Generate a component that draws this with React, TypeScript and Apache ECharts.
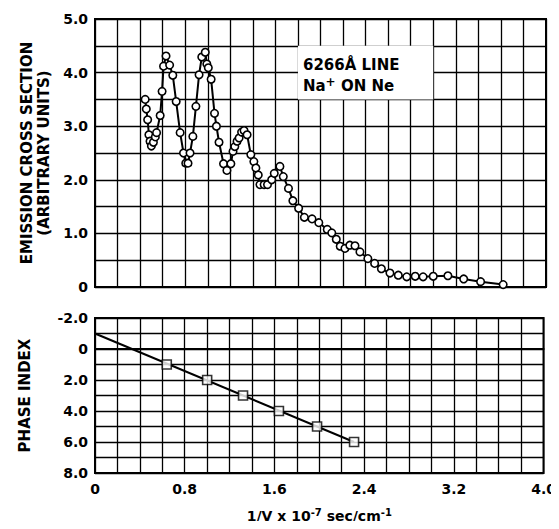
import React, { useEffect, useRef } from "react";
import * as echarts from "echarts";

// Top panel: emission cross section vs 1/V
const emissionX = [0.445, 0.455, 0.467, 0.478, 0.488, 0.5, 0.518, 0.535, 0.546, 0.578, 0.595, 0.608, 0.63, 0.662, 0.69, 0.72, 0.755, 0.785, 0.805, 0.825, 0.843, 0.868, 0.895, 0.923, 0.947, 0.978, 0.992, 1.005, 1.03, 1.06, 1.077, 1.1, 1.14, 1.17, 1.205, 1.224, 1.24, 1.26, 1.278, 1.3, 1.322, 1.349, 1.382, 1.409, 1.427, 1.448, 1.463, 1.5, 1.53, 1.567, 1.59, 1.64, 1.67, 1.716, 1.755, 1.806, 1.857, 1.925, 1.985, 2.06, 2.1, 2.14, 2.175, 2.217, 2.26, 2.306, 2.35, 2.42, 2.48, 2.54, 2.616, 2.69, 2.765, 2.84, 2.91, 3.0, 3.13, 3.27, 3.42, 3.62];
const emissionY = [3.5, 3.32, 3.12, 2.84, 2.72, 2.63, 2.7, 2.8, 2.88, 3.2, 3.65, 4.12, 4.31, 4.14, 3.95, 3.46, 2.88, 2.5, 2.31, 2.31, 2.5, 2.81, 3.37, 3.96, 4.29, 4.38, 4.16, 4.09, 3.875, 3.24, 3.0, 2.7, 2.3, 2.175, 2.3, 2.53, 2.62, 2.72, 2.78, 2.89, 2.92, 2.84, 2.47, 2.34, 2.22, 2.09, 1.91, 1.91, 1.91, 2.0, 2.12, 2.25, 2.06, 1.84, 1.61, 1.47, 1.3, 1.27, 1.2, 1.075, 1.01, 0.89, 0.76, 0.72, 0.78, 0.77, 0.655, 0.53, 0.44, 0.34, 0.26, 0.22, 0.19, 0.2, 0.19, 0.2, 0.21, 0.15, 0.1, 0.045];

// Bottom panel: phase index vs 1/V
const phaseX = [0.64, 1.0, 1.32, 1.64, 1.98, 2.31];
const phaseY = [1, 2, 3, 4, 5, 6];
const fitX = [0, 2.31];
const fitY = [-1, 6];

const xTickLabels = ["0", "0.8", "1.6", "2.4", "3.2", "4.0"];
const topTickLabels = ["0", "1.0", "2.0", "3.0", "4.0", "5.0"];
const phaseTickLabels = ["-2.0", "0", "2.0", "4.0", "6.0", "8.0"];

const noteBox = [[1.8, 4.5], [3.0, 3.5]];

const FONT = "DejaVu Sans";

export default function App() {
  const ref = useRef<HTMLDivElement>(null);
  useEffect(() => {
    if (!ref.current) return;
    const chart = echarts.init(ref.current, undefined, { renderer: "svg" });
    const labelStyle = { color: "#000", fontFamily: FONT, fontSize: 14, fontWeight: "bold" as const };
    const split = { show: true, lineStyle: { color: "#000", width: 1.3 } };
    const axisLine = { show: true, lineStyle: { color: "#000", width: 2 } };
    const xFmt = (v: number) => {
      const k = Math.round(v * 10);
      if (k % 8 !== 0) return "";
      return xTickLabels[k / 8] ?? "";
    };
    const topFmt = (v: number) => {
      const k = Math.round(v * 2);
      if (k % 2 !== 0) return "";
      return topTickLabels[k / 2] ?? "";
    };
    const phaseFmt = (v: number) => {
      const k = Math.round(v) + 2;
      if (k % 2 !== 0) return "";
      return phaseTickLabels[k / 2] ?? "";
    };
    const option: any = {
      animation: false,
      backgroundColor: "#fff",
      grid: [
        { left: 95, top: 19, width: 451, height: 268, show: true, borderColor: "#000", borderWidth: 2, backgroundColor: "transparent" },
        { left: 95, top: 318, width: 451, height: 155, show: true, borderColor: "#000", borderWidth: 2, backgroundColor: "transparent" },
      ],
      xAxis: [
        {
          gridIndex: 0, type: "value", min: 0, max: 4, interval: 0.2,
          axisLine, axisTick: { show: false }, axisLabel: { show: false }, splitLine: split,
        },
        {
          gridIndex: 1, type: "value", min: 0, max: 4, interval: 0.2,
          axisLine, axisTick: { show: false }, splitLine: split,
          axisLabel: { ...labelStyle, formatter: xFmt, margin: 9, showMinLabel: true, showMaxLabel: true, hideOverlap: false },
          name: "1/V x 10{s|-7} sec/cm{s|-1}",
          nameLocation: "middle", nameGap: 34,
          nameTextStyle: {
            color: "#000", fontFamily: FONT, fontSize: 14, fontWeight: "bold", lineHeight: 18,
            rich: { s: { fontFamily: FONT, fontSize: 10, fontWeight: "bold", verticalAlign: "top", lineHeight: 12, color: "#000" } },
          },
        },
      ],
      yAxis: [
        {
          gridIndex: 0, type: "value", min: 0, max: 5, interval: 0.5,
          axisLine, axisTick: { show: false }, splitLine: split,
          axisLabel: { ...labelStyle, formatter: topFmt, margin: 7, hideOverlap: false },
          name: "EMISSION CROSS SECTION\n(ARBITRARY UNITS)",
          nameLocation: "middle", nameGap: 42, nameRotate: 90,
          nameTextStyle: { color: "#000", fontFamily: FONT, fontSize: 15, fontWeight: "bold", lineHeight: 17, align: "center" },
        },
        {
          gridIndex: 1, type: "value", min: -2, max: 8, interval: 1, inverse: true,
          axisLine, axisTick: { show: false }, splitLine: split,
          axisLabel: { ...labelStyle, formatter: phaseFmt, margin: 7, hideOverlap: false },
          name: "PHASE INDEX",
          nameLocation: "middle", nameGap: 63, nameRotate: 90,
          nameTextStyle: { color: "#000", fontFamily: FONT, fontSize: 15, fontWeight: "bold" },
        },
      ],
      series: [
        {
          type: "line", xAxisIndex: 0, yAxisIndex: 0,
          data: emissionX.map((x, i) => [x, emissionY[i]]),
          symbol: "circle", symbolSize: 7.5, showAllSymbol: true,
          lineStyle: { color: "#000", width: 2 },
          itemStyle: { color: "#fff", borderColor: "#000", borderWidth: 1.6 },
          z: 5,
          markArea: {
            silent: true,
            itemStyle: { color: "#fff", opacity: 1 },
            label: {
              show: true, position: "insideLeft", distance: 5, offset: [0, 3],
              color: "#000", fontFamily: FONT, fontSize: 15, fontWeight: "bold", lineHeight: 21,
              formatter: "6266Å LINE\nNa{p|+} ON Ne",
              rich: { p: { fontFamily: FONT, fontSize: 12, fontWeight: "bold", verticalAlign: "top", lineHeight: 14, color: "#000" } },
            },
            data: [[{ coord: noteBox[0] }, { coord: noteBox[1] }]],
          },
        },
        {
          type: "line", xAxisIndex: 1, yAxisIndex: 1,
          data: fitX.map((x, i) => [x, fitY[i]]),
          symbol: "none", lineStyle: { color: "#000", width: 2 }, z: 4,
        },
        {
          type: "scatter", xAxisIndex: 1, yAxisIndex: 1,
          data: phaseX.map((x, i) => [x, phaseY[i]]),
          symbol: "rect", symbolSize: 9,
          itemStyle: { color: "#fff", borderColor: "#000", borderWidth: 1.6 },
          z: 6,
        },
      ],
    };
    chart.setOption(option);
    return () => chart.dispose();
  }, []);
  return <div ref={ref} style={{ width: 559, height: 529, margin: -8 }} />;
}
